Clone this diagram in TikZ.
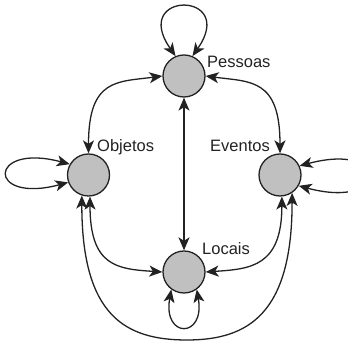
\documentclass[tikz,border=0pt]{standalone}
\usepackage{fontspec}
\setmainfont{Liberation Sans}
\usetikzlibrary{arrows.meta}

\definecolor{cinza}{HTML}{C0C0C0}
\definecolor{traco}{HTML}{222222}
\def\tamanho{42pt}

\begin{document}
\begin{tikzpicture}[x=1pt, y=1pt,
    >={Stealth[length=13pt,width=11pt,inset=3.5pt]},
    estado/.style = {circle, draw=traco, fill=cinza, line width=1.3pt,
      minimum size=\tamanho, inner sep=0pt},
    rotulo/.style = {anchor=base west, inner sep=0pt, text=traco,
      font=\fontsize{16.5}{18}\selectfont},
    liga/.style = {draw=traco, line width=1.3pt, <->}]
  \useasboundingbox (0,0) rectangle (348,347);
  \foreach \id/\pos/\texto/\tpos in {
      pes/{184,271}/Pessoas/{207,279},
      obj/{88.5,172}/Objetos/{97,195},
      eve/{280,172}/Eventos/{210,195},
      loc/{184,75}/Locais/{202,92}} {
    \node[estado] (\id) at (\pos) {};
    \node[rotulo] (\id-txt) at (\tpos) {\texto};
  }
  % ligacoes entre os estados
  \draw[liga] (obj.north) .. controls +(0,75) and +(-45,-6) .. (pes.west);
  \draw[liga] (eve.north) .. controls +(0,75) and +(45,-6) .. (pes.east);
  \draw[liga] (pes.south) -- (loc.north);
  \draw[liga] (obj.-86) .. controls +(0,-70) and +(-45,3) .. (loc.west);
  \draw[liga] (eve.-85) .. controls +(0,-70) and +(45,3) .. (loc.east);
  \coordinate (fundo) at (187,7);
  \draw[liga] (obj.-108) .. controls +(0,-120) and +(-62,0) .. (fundo)
    .. controls +(62,0) and +(0,-120) .. (eve.-56);
  % lacos
  \draw[liga] (pes.113) .. controls +(125:80) and +(55:80) .. (pes.67);
  \draw[liga] (obj.150) .. controls +(165:85) and +(195:85) .. (obj.200);
  \draw[liga] (eve.25) .. controls +(15:95) and +(-15:95) .. (eve.-30);
  \draw[liga] (loc.-126) .. controls +(-100:50) and +(-80:50) .. (loc.-54);
\end{tikzpicture}
\end{document}
